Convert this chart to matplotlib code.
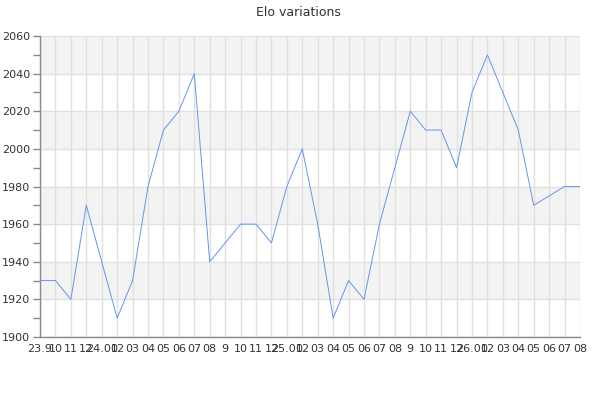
import matplotlib
matplotlib.use("Agg")
import matplotlib.pyplot as plt
from matplotlib.ticker import MultipleLocator

months = ["23.9", "10", "11", "12", "24.01", "02", "03", "04", "05", "06", "07", "08",
          "9", "10", "11", "12", "25.01", "02", "03", "04", "05", "06", "07", "08",
          "9", "10", "11", "12", "26.01", "02", "03", "04", "05", "06", "07", "08"]
elo = [1930, 1930, 1920, 1970, 1940, 1910, 1930, 1980, 2010, 2020, 2040, 1940,
       1950, 1960, 1960, 1950, 1980, 2000, 1960, 1910, 1930, 1920, 1960, 1990,
       2020, 2010, 2010, 1990, 2030, 2050, 2030, 2010, 1970, 1975, 1980, 1980]

fig = plt.figure(figsize=(6, 4), dpi=100)
ax = fig.add_axes([40/600, 63/400, 540/600, 301/400])

ymin, ymax = 1900, 2060
# alternating bands
for i, y0 in enumerate(range(ymin, ymax, 20)):
    if i % 2 == 1:
        ax.axhspan(y0, y0 + 20, color="#f3f3f3", zorder=0, lw=0)

x = list(range(len(months)))
ax.plot(x, elo, color="#6495ED", lw=0.7, zorder=3)

ax.set_xlim(0, len(months) - 1)
ax.set_ylim(ymin, ymax)
ax.set_xticks(x)
ax.set_xticklabels(months)
ax.yaxis.set_major_locator(MultipleLocator(20))
ax.yaxis.set_minor_locator(MultipleLocator(10))

ax.grid(True, which="major", color="#e0e0e0", lw=1, zorder=1)
ax.set_axisbelow(True)

for s in ["top", "right"]:
    ax.spines[s].set_visible(False)
for s in ["left", "bottom"]:
    ax.spines[s].set_color("#888888")
    ax.spines[s].set_linewidth(1)

ax.tick_params(axis="x", length=0, pad=5, labelsize=8, labelcolor="#333333")
ax.tick_params(axis="y", which="both", length=5, width=1, color="#888888",
               labelsize=8, labelcolor="#333333", pad=2)

fig.text(298/600, 1 - 12/400, "Elo variations", ha="center", va="center",
         fontsize=9, color="#333333")

fig.savefig("out.png", dpi=100)
